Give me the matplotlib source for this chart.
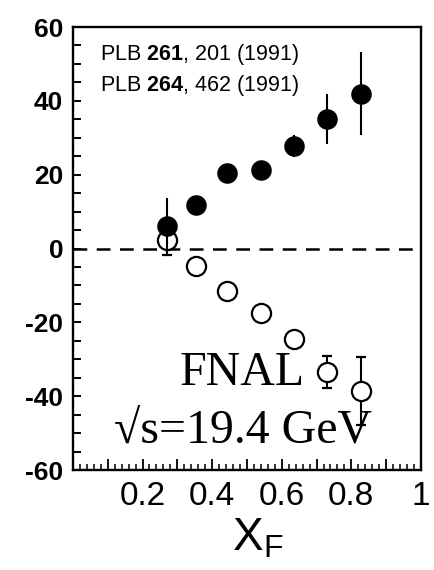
import matplotlib
matplotlib.use("Agg")
import matplotlib.pyplot as plt
from matplotlib import font_manager
from matplotlib.ticker import MultipleLocator, FixedLocator, FuncFormatter

# ---- data ----
xf_filled = [0.271, 0.354, 0.442, 0.539, 0.636, 0.730, 0.828]
an_filled = [6.2, 11.9, 20.5, 21.4, 27.8, 35.1, 41.9]
err_filled = [7.4, 1.0, 1.0, 1.0, 3.0, 6.7, 11.2]

xf_open = [0.271, 0.354, 0.442, 0.539, 0.636, 0.730, 0.828]
an_open = [2.2, -4.7, -11.4, -17.5, -24.4, -33.5, -38.6]
err_open = [3.9, 1.0, 1.0, 1.0, 1.0, 4.3, 9.2]

xticks = [0.2, 0.4, 0.6, 0.8, 1.0]
xticklabels = ["0.2", "0.4", "0.6", "0.8", "1"]
yticks = [-60, -40, -20, 0, 20, 40, 60]
yticklabels = ["-60", "-40", "-20", "0", "20", "40", "60"]


def have(name):
    try:
        font_manager.findfont(font_manager.FontProperties(family=name), fallback_to_default=False)
        return True
    except Exception:
        return False

narrow = "Liberation Sans Narrow" if have("Liberation Sans Narrow") else "Liberation Sans"
sans = "Liberation Sans"
serif = "Liberation Serif"

plt.rcParams["axes.unicode_minus"] = False
plt.rcParams["mathtext.fontset"] = "custom"
plt.rcParams["mathtext.rm"] = sans
plt.rcParams["mathtext.bf"] = sans + ":bold"
plt.rcParams["mathtext.it"] = sans

fig = plt.figure(figsize=(4.34, 5.70), dpi=100)
ax = fig.add_axes([0.168, 0.1754, 0.802, 0.7772])

ax.set_xlim(0, 1)
ax.set_ylim(-60, 60)

ax.axhline(0, color="black", lw=1.8, dashes=(5.5, 3.8), zorder=1)

ax.errorbar(xf_open, an_open, yerr=err_open, fmt="o", mfc="white", mec="black",
            mew=1.6, ms=13.8, ecolor="black", elinewidth=1.5, capsize=3.6,
            capthick=1.5, zorder=2)
ax.errorbar(xf_filled, an_filled, yerr=err_filled, fmt="o", mfc="black", mec="black",
            mew=0, ms=14.8, ecolor="black", elinewidth=1.5, capsize=3.6,
            capthick=1.5, zorder=3)

for s in ax.spines.values():
    s.set_linewidth(1.7)

# long ticks every 0.1, labels only at the listed positions
label_map = {round(v, 2): t for v, t in zip(xticks, xticklabels)}
ax.xaxis.set_major_locator(MultipleLocator(0.1))
ax.xaxis.set_major_formatter(FuncFormatter(lambda v, p: label_map.get(round(v, 2), "")))
ax.xaxis.set_minor_locator(MultipleLocator(0.02))
for lab in ax.get_xticklabels():
    pass
ax.tick_params(axis="x", which="major", labelsize=24)
for t in ax.xaxis.get_major_ticks():
    t.label1.set_fontfamily(narrow)

ax.set_yticks(yticks)
ax.set_yticklabels(yticklabels, fontfamily=sans, fontweight="bold", fontsize=19)
ax.yaxis.set_minor_locator(MultipleLocator(5))

ax.tick_params(axis="x", which="major", direction="in", length=8, width=1.3,
               pad=8, top=False)
ax.tick_params(axis="x", which="minor", direction="in", length=4.5, width=1.1, top=False)
ax.tick_params(axis="y", which="major", direction="in", length=6, width=1.4,
               pad=7, right=False)
ax.tick_params(axis="y", which="minor", direction="in", length=6, width=1.4, right=False)

ax.set_xlabel(r"$\mathregular{X_F}$", fontsize=33, fontfamily=narrow, labelpad=3)
ax.xaxis.set_label_coords(0.53, -0.105)

ax.text(0.078, 51.2, r"PLB $\mathbf{261}$, 201 (1991)", fontsize=15.5,
        fontfamily=sans, ha="left", va="baseline")
ax.text(0.078, 42.8, r"PLB $\mathbf{264}$, 462 (1991)", fontsize=15.5,
        fontfamily=sans, ha="left", va="baseline")

ax.text(0.486, -36.9, "FNAL", fontsize=34.5, fontfamily=serif, ha="center", va="baseline")
ax.text(0.488, -52.8, "\u221as=19.4 GeV", fontsize=34.5, fontfamily=serif,
        ha="center", va="baseline")

fig.savefig("out.png", dpi=100)
